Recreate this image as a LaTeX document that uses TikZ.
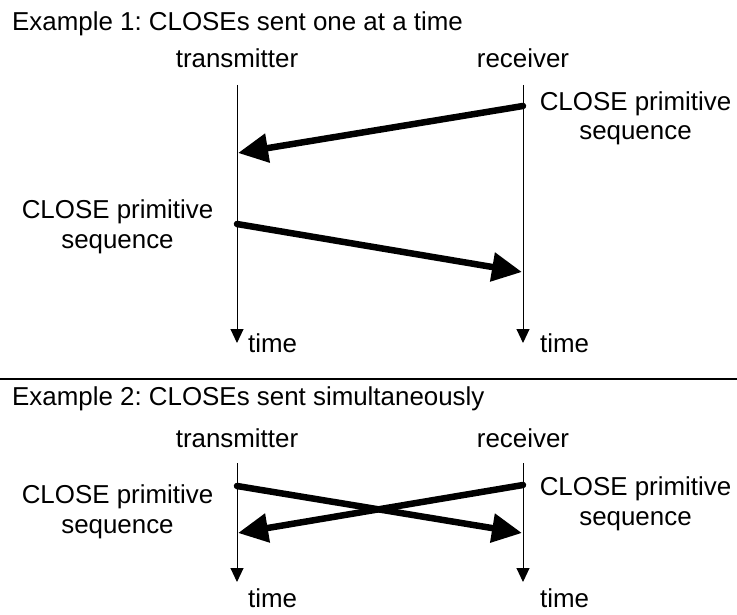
\documentclass[tikz,border=0pt]{standalone}
\usepackage{fontspec}
\setmainfont{Liberation Sans}
\usetikzlibrary{arrows.meta}
\frenchspacing
\begin{document}
\begin{tikzpicture}[x=1bp,y=-1bp,
  lbl/.style={inner sep=0pt,font=\fontsize{26}{30}\selectfont},
  twoline/.style={lbl,align=center,anchor=base},
  timeline/.style={line width=1bp,-{Triangle[length=14bp,width=13bp]}},
  msg/.style={line width=6.5bp,line cap=round,-{Triangle[length=30bp,width=28bp]}},
  divider/.style={line width=2bp}]
\useasboundingbox (0,0) rectangle (737,615);
% Example 1
\node[lbl,anchor=base west] (t1) at (12,31) {Example 1: CLOSEs sent one at a time};
\node[lbl,anchor=base] (tx1) at (237,68) {transmitter};
\node[lbl,anchor=base] (rx1) at (523,68) {receiver};
\coordinate (tx1top) at (237,85);
\coordinate (tx1bot) at (237,343);
\coordinate (rx1top) at (523,85);
\coordinate (rx1bot) at (523,343);
\draw[timeline] (tx1top) -- (tx1bot);
\draw[timeline] (rx1top) -- (rx1bot);
\node[twoline] (lr1) at (635.5,140) {CLOSE primitive\\sequence};
\node[twoline] (ll1) at (117.5,248) {CLOSE primitive\\sequence};
\coordinate (a1s) at (523,106);
\coordinate (a1e) at (238,153);
\coordinate (a2s) at (237,224);
\coordinate (a2e) at (522,272);
\draw[msg] (a1s) -- (a1e);
\draw[msg] (a2s) -- (a2e);
\node[lbl,anchor=base west] (time1l) at (248,352) {time};
\node[lbl,anchor=base west] (time1r) at (540,352) {time};
% divider
\coordinate (dl) at (0,379);
\coordinate (dr) at (737,379);
\draw[divider] (dl) -- (dr);
% Example 2
\node[lbl,anchor=base west] (t2) at (12,405) {Example 2: CLOSEs sent simultaneously};
\node[lbl,anchor=base] (tx2) at (237,447) {transmitter};
\node[lbl,anchor=base] (rx2) at (523,447) {receiver};
\coordinate (tx2top) at (237,463);
\coordinate (tx2bot) at (237,582);
\coordinate (rx2top) at (523,463);
\coordinate (rx2bot) at (523,582);
\draw[timeline] (tx2top) -- (tx2bot);
\draw[timeline] (rx2top) -- (rx2bot);
\node[twoline] (ll2) at (117.5,533) {CLOSE primitive\\sequence};
\node[twoline] (lr2) at (635.5,525) {CLOSE primitive\\sequence};
\coordinate (b1s) at (237,486);
\coordinate (b1e) at (522,533);
\coordinate (b2s) at (523,485);
\coordinate (b2e) at (238,533);
\draw[msg] (b1s) -- (b1e);
\draw[msg] (b2s) -- (b2e);
\node[lbl,anchor=base west] (time2l) at (248,607) {time};
\node[lbl,anchor=base west] (time2r) at (540,607) {time};
\end{tikzpicture}
\end{document}
